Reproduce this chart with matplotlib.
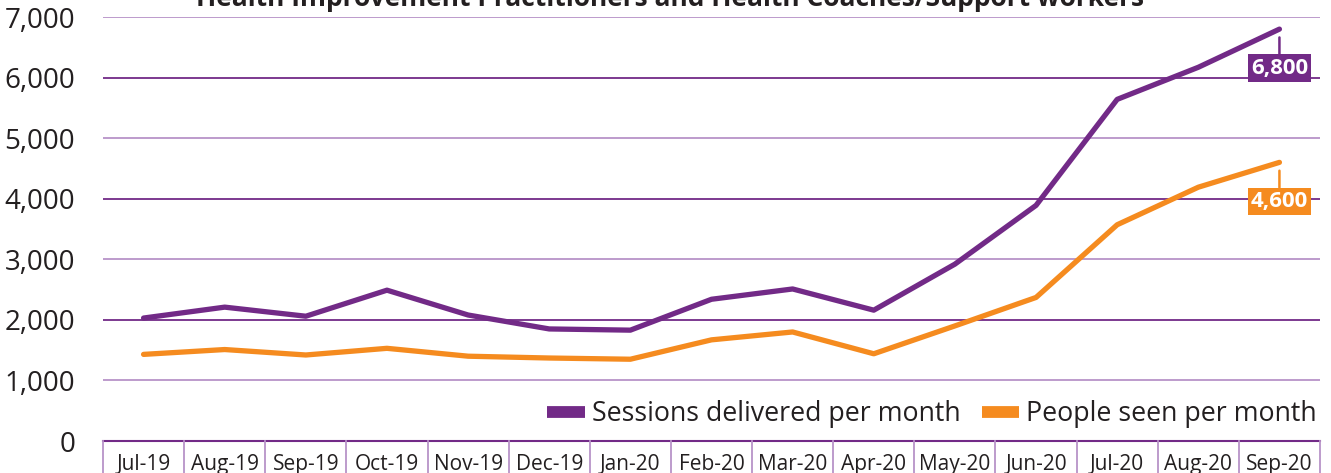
import numpy as np
import matplotlib.pyplot as plt
import matplotlib.transforms as mtransforms

months = ['Jul-19', 'Aug-19', 'Sep-19', 'Oct-19', 'Nov-19', 'Dec-19', 'Jan-20',
          'Feb-20', 'Mar-20', 'Apr-20', 'May-20', 'Jun-20', 'Jul-20', 'Aug-20', 'Sep-20']
sessions = [2030, 2210, 2060, 2490, 2080, 1850, 1830, 2340, 2510, 2160,
            2920, 3890, 5640, 6170, 6800]
people = [1430, 1510, 1420, 1530, 1400, 1370, 1350, 1670, 1800, 1440,
          1900, 2370, 3570, 4190, 4600]
yticks = [0, 1000, 2000, 3000, 4000, 5000, 6000, 7000]
title = 'Health Improvement Practitioners and Health Coaches/Support workers'

purple = '#722A87'
light_purple = '#B893C8'
orange = '#F58B1F'
text_col = '#231F20'

plt.rcParams['font.family'] = ['Open Sans', 'DejaVu Sans']

fig = plt.figure(figsize=(13.31, 4.73), dpi=100)
ax = fig.add_axes([103/1331, 32/473, 1217/1331, 424/473])

x = np.arange(len(months))
ax.set_xlim(-0.5, len(months) - 0.5)
ax.set_ylim(0, 7000)

# alternating gridlines
for v in yticks[1:]:
    c = purple if (v // 1000) % 2 == 0 else light_purple
    ax.axhline(v, color=c, lw=1.3, zorder=1)
ax.axhline(0, color=purple, lw=1.5, zorder=1, clip_on=False)

# category boxes below axis
trans = mtransforms.blended_transform_factory(ax.transData, ax.transAxes)
for b in np.arange(-0.5, len(months), 1.0):
    ax.plot([b, b], [0, -0.2], color=light_purple, lw=1.3, transform=trans,
            clip_on=False, zorder=1)

ax.plot(x, sessions, color=purple, lw=3.8, solid_capstyle='round',
        label='Sessions delivered per month', zorder=3)
ax.plot(x, people, color=orange, lw=3.8, solid_capstyle='round',
        label='People seen per month', zorder=3)

for vals, col in [(sessions, purple), (people, orange)]:
    ax.annotate(f'{vals[-1]:,}', xy=(x[-1], vals[-1]), xytext=(0, -28),
                textcoords='offset points', ha='center', va='center',
                fontsize=16, fontweight='bold', color='white',
                bbox=dict(boxstyle='square,pad=0.14', fc=col, ec='none'),
                arrowprops=dict(arrowstyle='-', color=col, lw=1.8,
                                shrinkA=0, shrinkB=6), zorder=4)

ax.set_xticks(x)
ax.set_xticklabels(months, fontsize=15, color=text_col)
ax.set_yticks(yticks)
ax.set_yticklabels([f'{v:,}' for v in yticks], fontsize=20, color=text_col)
ax.tick_params(axis='x', length=0, pad=9)
ax.tick_params(axis='y', length=0, pad=20)
for s in ax.spines.values():
    s.set_visible(False)

leg = ax.legend(loc='lower right', bbox_to_anchor=(1.006, 0.005), ncol=2,
                frameon=False, fontsize=19.3, handlelength=1.4,
                handletextpad=0.25, columnspacing=0.8, borderaxespad=0)
for t in leg.get_texts():
    t.set_color(text_col)
for h in leg.get_lines():
    h.set_linewidth(8.5)
    h.set_solid_capstyle('butt')

fig.text(670/1331, 1 - 6/473, title, ha='center', va='baseline',
         fontsize=19, fontweight='bold', color=text_col)

fig.savefig('out.png', dpi=100)
